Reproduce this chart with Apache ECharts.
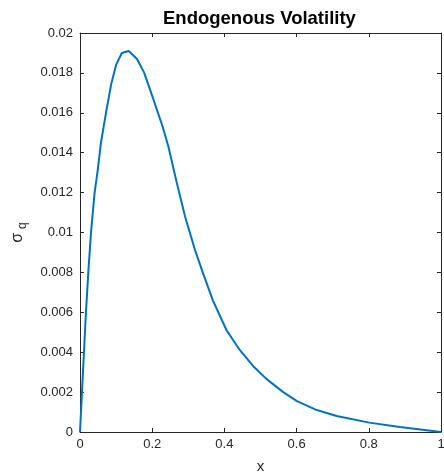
<!DOCTYPE html>
<html>
<head>
<meta charset="utf-8">
<script src="https://cdn.jsdelivr.net/npm/echarts@6/dist/echarts.min.js"></script>
<style>
html,body{margin:0;padding:0;background:#fff;}
#chart{width:444px;height:476px;}
</style>
</head>
<body>
<div id="chart"></div>
<script>
var xValues = [0, 0.0055, 0.011, 0.0165, 0.023, 0.0305, 0.0405, 0.049, 0.058, 0.072, 0.086, 0.100, 0.116, 0.135, 0.158, 0.178, 0.201, 0.229, 0.245, 0.268, 0.291, 0.319, 0.342, 0.368, 0.406, 0.443, 0.480, 0.517, 0.563, 0.601, 0.656, 0.711, 0.801, 0.886, 1.0];
var sigmaQ  = [0, 0.0020, 0.0040, 0.0060, 0.0080, 0.0100, 0.0120, 0.0131, 0.0145, 0.0160, 0.0174, 0.0184, 0.0190, 0.0191, 0.0187, 0.0180, 0.0168, 0.0153, 0.0143, 0.0125, 0.0108, 0.0091, 0.0079, 0.0066, 0.0051, 0.0041, 0.0033, 0.00265, 0.0020, 0.00155, 0.0011, 0.0008, 0.00047, 0.00025, 0];
var xTicks = [0, 0.2, 0.4, 0.6, 0.8, 1];
var yTicks = [0, 0.002, 0.004, 0.006, 0.008, 0.01, 0.012, 0.014, 0.016, 0.018, 0.02];
var titleText = 'Endogenous Volatility';
var xLabel = 'x';

var chart = echarts.init(document.getElementById('chart'), null, {renderer: 'canvas'});
var axisColor = '#262626';
var font = 'Liberation Sans, Arial, Helvetica, sans-serif';
var data = xValues.map(function (x, i) { return [x, sigmaQ[i]]; });

function xAx(pos, showLabel) {
  return {
    type: 'value', position: pos, min: xTicks[0], max: xTicks[xTicks.length - 1],
    interval: xTicks[1] - xTicks[0],
    axisLine: {show: true, onZero: false, lineStyle: {color: axisColor, width: 1}},
    axisTick: {show: true, inside: true, length: 4, lineStyle: {color: axisColor}},
    axisLabel: {show: showLabel, color: axisColor, fontSize: 13, fontFamily: font, margin: 6},
    splitLine: {show: false},
    name: showLabel ? xLabel : '', nameLocation: 'middle', nameGap: 27,
    nameTextStyle: {color: axisColor, fontSize: 15, fontFamily: font}
  };
}
function yAx(pos, showLabel) {
  return {
    type: 'value', position: pos, min: yTicks[0], max: yTicks[yTicks.length - 1],
    interval: yTicks[1] - yTicks[0],
    axisLine: {show: true, onZero: false, lineStyle: {color: axisColor, width: 1}},
    axisTick: {show: true, inside: true, length: 4, lineStyle: {color: axisColor}},
    axisLabel: {show: showLabel, color: axisColor, fontSize: 13, fontFamily: font, margin: 7},
    splitLine: {show: false},
    name: showLabel ? '{s|\u03C3}{q|q}' : '', nameLocation: 'middle', nameGap: 51, nameRotate: 90,
    nameTextStyle: {
      color: axisColor, fontFamily: font,
      rich: {
        s: {fontSize: 16, fontFamily: font, color: axisColor, lineHeight: 22, verticalAlign: 'middle'},
        q: {fontSize: 12, fontFamily: font, color: axisColor, lineHeight: 22, verticalAlign: 'bottom', padding: [10, 0, 0, 4]}
      }
    }
  };
}

chart.setOption({
  backgroundColor: '#ffffff',
  animation: false,
  title: {
    text: titleText, left: 158, top: 4,
    textStyle: {fontSize: 18.5, fontWeight: 'bold', color: '#000', fontFamily: font}
  },
  grid: {left: 80, right: 3, top: 33, bottom: 44, containLabel: false, outerBoundsMode: 'none'},
  xAxis: [xAx('bottom', true), xAx('top', false)],
  yAxis: [yAx('left', true), yAx('right', false)],
  series: [{
    type: 'line', data: data, xAxisIndex: 0, yAxisIndex: 0,
    showSymbol: false, smooth: false,
    lineStyle: {color: '#0072BD', width: 2}
  }]
});
</script>
</body>
</html>
